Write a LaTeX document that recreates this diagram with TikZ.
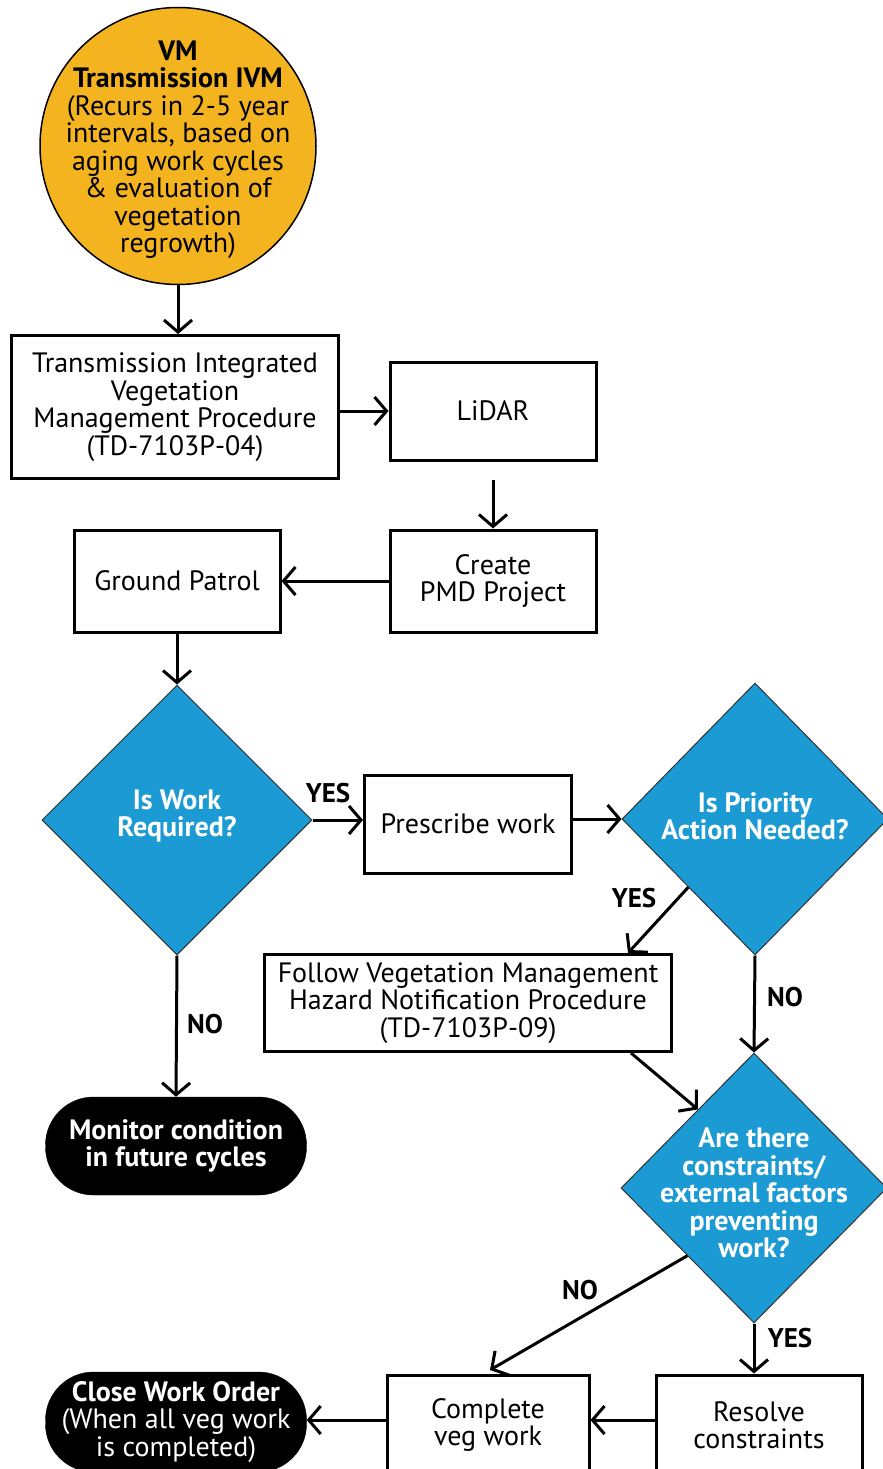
\documentclass[tikz,border=0pt]{standalone}
\usepackage{fontspec}
\setmainfont{PT Sans}
\usetikzlibrary{shapes.geometric,arrows.meta,calc}
\definecolor{ivmorange}{RGB}{244,180,32}
\definecolor{ivmblue}{RGB}{27,154,212}
\begin{document}
\begin{tikzpicture}[x=1pt,y=-1pt,
  every node/.style={font=\fontsize{28}{27.5}\selectfont, align=center, inner sep=0pt},
  procbox/.style={draw=black, line width=3pt, fill=white, minimum width=#1},
  decision/.style={diamond, draw=black!80, line width=1pt, fill=ivmblue},
  dectext/.style={text=white, font=\fontsize{28}{27.5}\selectfont\bfseries},
  terminal/.style={draw=black, fill=black, text=white, rounded corners=48pt,
     minimum width=261pt, minimum height=98pt},
  flow/.style={draw=black, line width=3pt, -{Straight Barb[length=12pt,width=28pt]}},
  lbl/.style={font=\fontsize{27}{27.5}\selectfont\bfseries}
]
\useasboundingbox[fill=white] (0,0) rectangle (883,1469);

% nodes
\node[ellipse, draw=black, line width=1.5pt, fill=ivmorange, minimum width=276pt, minimum height=277pt] (ell) at (178,146) {};
\node (elltext) at (178,150) {\textbf{VM}\\\textbf{Transmission IVM}\\(Recurs in 2-5 year\\intervals, based on\\aging work cycles\\\& evaluation of\\vegetation\\regrowth)};

\node[procbox=327pt, minimum height=143pt] (td) at (175,407) {Transmission Integrated\\Vegetation\\Management Procedure\\(TD-7103P-04)};
\node[procbox=206pt, minimum height=98pt] (lidar) at (493,411) {LiDAR};
\node[procbox=206pt, minimum height=102pt] (pmd) at (493,581) {Create\\PMD Project};
\node[procbox=206pt, minimum height=102pt] (gp) at (177,581) {Ground Patrol};

\node[decision, minimum width=270pt, minimum height=270pt] (d1) at (177,820) {};
\node[dectext] (d1text) at (177,816) {Is Work\\Required?};
\node[procbox=207pt, minimum height=98pt] (pw) at (468,824) {Prescribe work};
\node[decision, minimum width=266pt, minimum height=272pt] (d2) at (755,819) {};
\node[dectext] (d2text) at (755,816) {Is Priority\\Action Needed?};

\node[procbox=407pt, minimum height=97pt] (follow) at (468,1003) {Follow Vegetation Management\\Hazard Notification Procedure\\(TD-7103P-09)};
\node[decision, minimum width=266pt, minimum height=270pt] (d3) at (754,1188) {};
\node[dectext] (d3text) at (754,1193) {Are there\\constraints/\\external factors\\preventing\\work?};

\node[terminal] (mon) at (176,1146) {\textbf{Monitor condition}\\\textbf{in future cycles}};
\node[terminal, minimum height=100pt] (close) at (176,1422) {\textbf{Close Work Order}\\(When all veg work\\is completed)};
\node[procbox=202pt, minimum height=100pt] (comp) at (488,1425) {Complete\\veg work};
\node[procbox=206pt, minimum height=100pt] (res) at (759,1425) {Resolve\\constraints};

% free ends
\coordinate (yestip) at (628,953);
\coordinate (notip) at (490,1370);

% connectors
\draw[flow] (ell.south) -- (ell.south |- td.north);
\draw[flow] (td.east |- lidar.west) -- (lidar.west);
\draw[flow, shorten <=18pt] (lidar.south) -- (pmd.north);
\draw[flow] (pmd.west) -- (gp.east);
\draw[flow] (gp.south) -- (d1.north);
\draw[flow] (d1.east) -- (d1.east -| pw.west);
\draw[flow] (pw.east |- d2.west) -- (d2.west);
\draw[flow] ($(d2.west)!0.5!(d2.south)$) -- (yestip);
\draw[flow] (d2.south) -- (d3.north);
\draw[flow] ($(follow.south east)+(-42,0)$) -- ($(d3.north)!0.42!(d3.west)$);
\draw[flow] (d1.south) -- (mon.north);
\draw[flow] ($(d3.west)!0.5!(d3.south)$) -- (notip);
\draw[flow] (d3.south) -- (d3.south |- res.north);
\draw[flow] (res.west |- 0,1420) -- (comp.east |- 0,1420);
\draw[flow] (comp.west |- 0,1420) -- (close.east |- 0,1420);

% labels
\node[lbl] (yes1) at (328,793) {YES};
\node[lbl] (yes2) at (634,898) {YES};
\node[lbl] (no1) at (205,1024) {NO};
\node[lbl] (no2) at (785,997) {NO};
\node[lbl] (no3) at (580,1290) {NO};
\node[lbl] (yes3) at (790,1338) {YES};
\end{tikzpicture}
\end{document}
